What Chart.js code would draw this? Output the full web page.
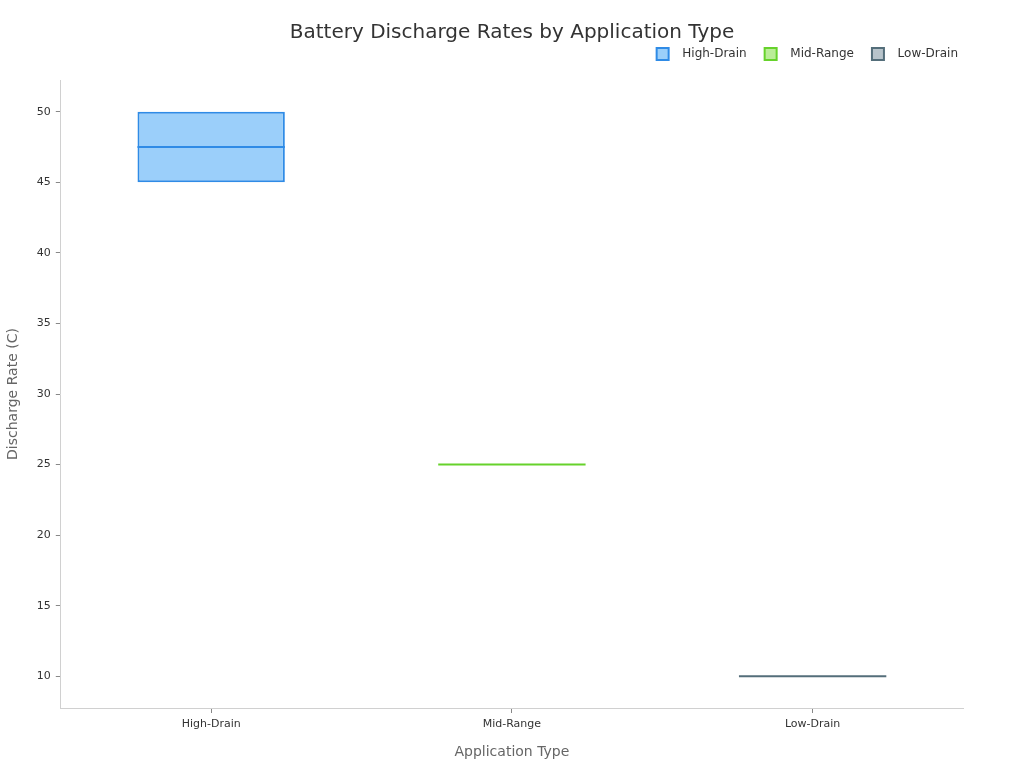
<!DOCTYPE html>
<html>
<head>
<meta charset="utf-8">
<script src="https://cdn.jsdelivr.net/npm/chart.js@4.4.1/dist/chart.umd.min.js"></script>
<style>
  html, body { margin: 0; padding: 0; background: #fff; }
  #wrap { width: 1024px; height: 768px; }
</style>
</head>
<body>
<div id="wrap"><canvas id="c" width="1024" height="768"></canvas></div>
<script>
// box plot data per application type
var categories = ['High-Drain', 'Mid-Range', 'Low-Drain'];
var q1Values = [45, 25, 10];
var q3Values = [50, 25, 10];
var medianValues = [47.5, 25, 10];
var yTicks = [10, 15, 20, 25, 30, 35, 40, 45, 50];
var chartTitle = 'Battery Discharge Rates by Application Type';

var fills = ['rgba(144,202,249,0.9)', 'rgba(178,235,140,0.9)', 'rgba(176,190,197,0.9)'];
var borders = ['#2F8BE6', '#66D22B', '#546E7A'];

var datasets = [];
for (var i = 0; i < categories.length; i++) {
    var d = [];
    for (var j = 0; j < categories.length; j++) {
        d.push(i === j ? [q1Values[j], q3Values[j]] : null);
    }
    datasets.push({
        label: categories[i],
        data: d,
        backgroundColor: fills[i],
        borderColor: borders[i],
        borderWidth: 2,
        borderSkipped: false,
        barPercentage: 0.49,
        categoryPercentage: 1,
        grouped: false
    });
}

// draws the median line across each box
var medianPlugin = {
    id: 'median',
    afterDatasetsDraw: function(chart) {
        var ctx = chart.ctx;
        var y = chart.scales.y;
        chart.data.datasets.forEach(function(ds, i) {
            var meta = chart.getDatasetMeta(i);
            meta.data.forEach(function(bar, j) {
                if (ds.data[j] === null) return;
                var py = y.getPixelForValue(medianValues[j]);
                ctx.save();
                ctx.strokeStyle = borders[i];
                ctx.lineWidth = 2;
                ctx.beginPath();
                ctx.moveTo(bar.x - bar.width / 2, py);
                ctx.lineTo(bar.x + bar.width / 2, py);
                ctx.stroke();
                ctx.restore();
            });
        });
    }
};

// title centred on the whole canvas
var titlePlugin = {
    id: 'pageTitle',
    afterDraw: function(chart) {
        var ctx = chart.ctx;
        ctx.save();
        ctx.fillStyle = '#333';
        ctx.font = '20px "DejaVu Sans"';
        ctx.textAlign = 'center';
        ctx.textBaseline = 'middle';
        ctx.fillText(chartTitle, chart.width / 2, 33);
        ctx.restore();
    }
};

// extra room under the legend
var legendGap = {
    id: 'legendGap',
    beforeInit: function(chart) {
        var fit = chart.legend.fit;
        chart.legend.fit = function() {
            fit.bind(chart.legend)();
            this.height += 10;
        };
    }
};

new Chart(document.getElementById('c').getContext('2d'), {
    type: 'bar',
    data: { labels: categories, datasets: datasets },
    plugins: [medianPlugin, titlePlugin, legendGap],
    options: {
        responsive: false,
        animation: false,
        layout: { padding: { left: 1, right: 48, top: 30, bottom: 3 } },
        plugins: {
            title: { display: false },
            legend: {
                position: 'top',
                align: 'end',
                labels: {
                    boxWidth: 12,
                    boxHeight: 12,
                    padding: 18,
                    color: '#333',
                    font: { family: 'DejaVu Sans', size: 12 },
                    generateLabels: function(chart) {
                        var items = Chart.defaults.plugins.legend.labels.generateLabels(chart);
                        items.forEach(function(it) { it.text = '  ' + it.text; });
                        return items;
                    }
                }
            },
            tooltip: { enabled: false }
        },
        scales: {
            x: {
                grid: { display: true, offset: false, drawOnChartArea: false, drawTicks: true, tickLength: 5, color: '#888' },
                border: { display: true, color: '#d0d0d0' },
                ticks: { color: '#333', font: { family: 'DejaVu Sans', size: 11 }, padding: 5 },
                title: {
                    display: true,
                    text: 'Application Type',
                    color: '#666',
                    font: { family: 'DejaVu Sans', size: 14 },
                    padding: { top: 8 }
                }
            },
            y: {
                min: 7.75,
                max: 52.25,
                afterBuildTicks: function(scale) {
                    scale.ticks = yTicks.map(function(v) { return { value: v }; });
                },
                grid: { display: true, drawOnChartArea: false, drawTicks: true, tickLength: 5, color: '#888' },
                border: { display: true, color: '#d0d0d0' },
                ticks: { color: '#333', font: { family: 'DejaVu Sans', size: 11 }, padding: 5 },
                title: {
                    display: true,
                    text: 'Discharge Rate (C)',
                    color: '#666',
                    font: { family: 'DejaVu Sans', size: 14 },
                    padding: { bottom: 10 }
                }
            },
            // empty right axis, keeps the plot edge left of the legend end
            yRight: {
                position: 'right',
                display: true,
                grid: { display: false },
                border: { display: false },
                ticks: { display: false },
                afterFit: function(scale) { scale.width = 13; }
            }
        }
    }
});
</script>
</body>
</html>
